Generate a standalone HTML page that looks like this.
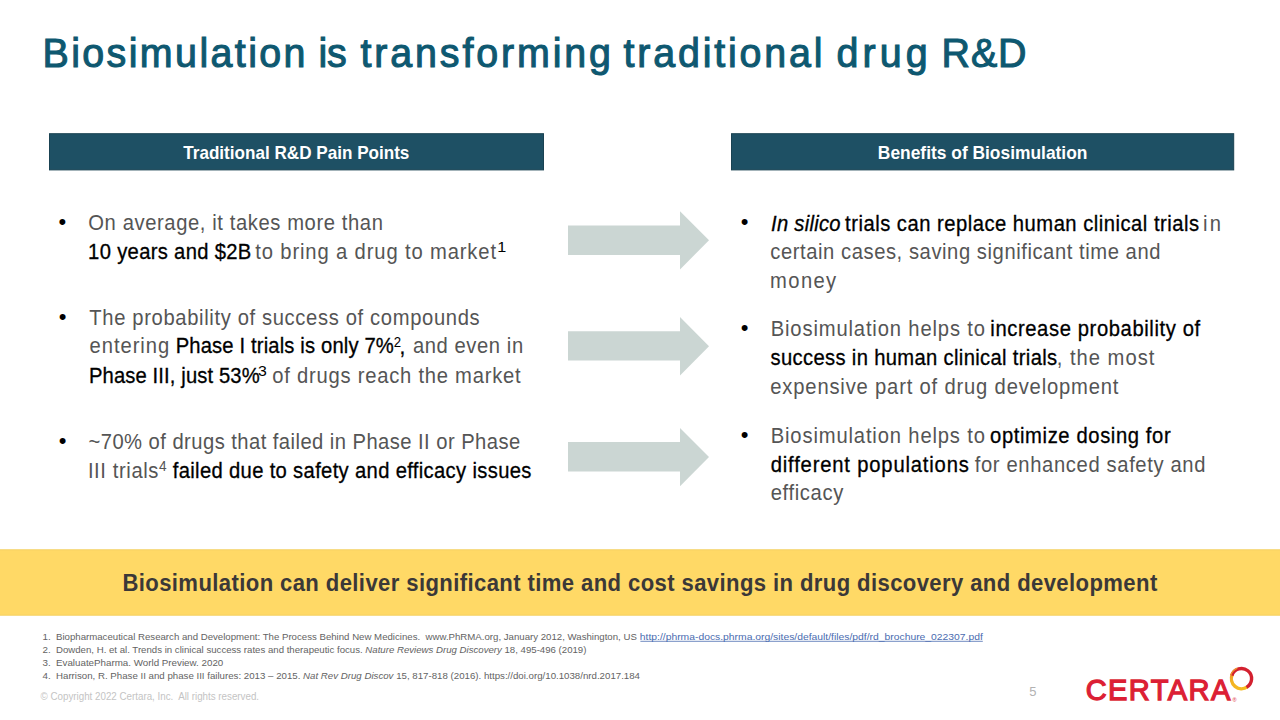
<!DOCTYPE html>
<html lang="en">
<head>
<meta charset="utf-8">
<title>Biosimulation is transforming traditional drug R&amp;D</title>
<style>
html,body{margin:0;padding:0;background:#fff;}
body{width:1280px;height:720px;overflow:hidden;position:relative;}
svg{display:block;position:absolute;left:0;top:0;}
text{font-family:"Liberation Sans",Arial,sans-serif;}
.t{fill:#0e5870;stroke:#0e5870;stroke-width:1.1px;}
.hd{fill:#fff;font-weight:700;}
.lt{fill:#555555;}
.bk{fill:#000;stroke:#000;stroke-width:0.3px;}
.sb{fill:#000;}
.it{font-style:italic;}
.bd{fill:#3b3838;font-weight:700;}
.fn{fill:#636363;}
.url{fill:#4a6cb0;}
.cp{fill:#c4c4c4;}
.lg{fill:#dc1f35;stroke:#dc1f35;stroke-width:1.3px;}
</style>
</head>
<body>
<svg width="1280" height="720" viewBox="0 0 1280 720">
  <rect x="0" y="0" width="1280" height="720" fill="#fff"/>

  <!-- Header bars -->
  <rect x="49.5" y="133.7" width="494" height="36.2" fill="#1e5064" stroke="#1a4252" stroke-width="1"/>
  <rect x="731.5" y="133.7" width="502.2" height="36.2" fill="#1e5064" stroke="#1a4252" stroke-width="1"/>
  <!-- Arrows -->
  <g fill="#cbd6d3">
    <polygon points="568,225.4 680,225.4 680,211.2 709,240.3 680,269.4 680,255 568,255"/>
    <polygon points="568,331.3 680,331.3 680,317 709,346.2 680,375.6 680,360.6 568,360.6"/>
    <polygon points="568,442 680,442 680,428 709,457 680,486.3 680,471.5 568,471.5"/>
  </g>
  <!-- Yellow band -->
  <rect x="-2" y="549.8" width="1284" height="65.4" fill="#ffd966" stroke="#f4d162" stroke-width="1"/>

  <text class="t" transform="matrix(0.95,0,0,1,42.50,0)" x="0" y="67.20" font-size="41.5" textLength="276.91" lengthAdjust="spacing">Biosimulation</text>
  <text class="t" transform="matrix(0.95,0,0,1,318.50,0)" x="0" y="67.20" font-size="41.5" textLength="29.63" lengthAdjust="spacing">is</text>
  <text class="t" transform="matrix(0.95,0,0,1,360.50,0)" x="0" y="67.20" font-size="41.5" textLength="263.69" lengthAdjust="spacing">transforming</text>
  <text class="t" transform="matrix(0.95,0,0,1,623.50,0)" x="0" y="67.20" font-size="41.5" textLength="209.48" lengthAdjust="spacing">traditional</text>
  <text class="t" transform="matrix(0.95,0,0,1,836.50,0)" x="0" y="67.20" font-size="41.5" textLength="95.88" lengthAdjust="spacing">drug</text>
  <text class="t" transform="matrix(0.95,0,0,1,941.50,0)" x="0" y="67.20" font-size="41.5" textLength="89.56" lengthAdjust="spacing">R&amp;D</text>
  <text class="hd" x="183.26" y="158.80" font-size="19" textLength="226.13" lengthAdjust="spacingAndGlyphs">Traditional R&amp;D Pain Points</text>
  <text class="hd" x="877.86" y="158.70" font-size="19" textLength="209.55" lengthAdjust="spacingAndGlyphs">Benefits of Biosimulation</text>
  <text class="lt" transform="matrix(0.94,0,0,1,88.31,0)" x="0" y="230.00" font-size="21.5" textLength="313.37" lengthAdjust="spacing">On average, it takes more than</text>
  <text class="bk" transform="matrix(0.94,0,0,1,88.11,0)" x="0" y="259.00" font-size="21.5" textLength="173.59" lengthAdjust="spacing">10 years and $2B</text>
  <text class="lt" transform="matrix(0.94,0,0,1,255.31,0)" x="0" y="259.00" font-size="21.5" textLength="256.11" lengthAdjust="spacing">to bring a drug to market</text>
  <text class="sb" x="497.33" y="251.80" font-size="14.5" textLength="9.03" lengthAdjust="spacingAndGlyphs">1</text>
  <text class="lt" transform="matrix(0.94,0,0,1,89.31,0)" x="0" y="325.00" font-size="21.5" textLength="415.26" lengthAdjust="spacing">The probability of success of compounds</text>
  <text class="lt" transform="matrix(0.94,0,0,1,89.51,0)" x="0" y="353.50" font-size="21.5" textLength="84.79" lengthAdjust="spacing">entering</text>
  <text class="bk" transform="matrix(0.94,0,0,1,175.71,0)" x="0" y="353.50" font-size="21.5" textLength="232.07" lengthAdjust="spacing">Phase I trials is only 7%</text>
  <text class="sb" x="393.73" y="347.10" font-size="14.5" textLength="7.37" lengthAdjust="spacingAndGlyphs">2</text>
  <text class="bk" x="399.51" y="353.50" font-size="21.5" textLength="5.82" lengthAdjust="spacingAndGlyphs">,</text>
  <text class="lt" transform="matrix(0.94,0,0,1,412.91,0)" x="0" y="353.50" font-size="21.5" textLength="117.28" lengthAdjust="spacing">and even in</text>
  <text class="bk" transform="matrix(0.94,0,0,1,88.91,0)" x="0" y="383.00" font-size="21.5" textLength="181.72" lengthAdjust="spacing">Phase III, just 53%</text>
  <text class="sb" x="258.13" y="376.00" font-size="14.5" textLength="8.81" lengthAdjust="spacingAndGlyphs">3</text>
  <text class="lt" transform="matrix(0.94,0,0,1,272.31,0)" x="0" y="383.00" font-size="21.5" textLength="264.20" lengthAdjust="spacing">of drugs reach the market</text>
  <text class="lt" transform="matrix(0.94,0,0,1,88.51,0)" x="0" y="448.70" font-size="21.5" textLength="459.30" lengthAdjust="spacing">~70% of drugs that failed in Phase II or Phase</text>
  <text class="lt" transform="matrix(0.94,0,0,1,87.91,0)" x="0" y="477.70" font-size="21.5" textLength="75.01" lengthAdjust="spacing">III trials</text>
  <text class="lt" x="159.00" y="471.10" font-size="14.5" textLength="7.60" lengthAdjust="spacingAndGlyphs">4</text>
  <text class="bk" transform="matrix(0.94,0,0,1,172.71,0)" x="0" y="477.70" font-size="21.5" textLength="381.61" lengthAdjust="spacing">failed due to safety and efficacy issues</text>
  <text class="bk it" transform="matrix(0.94,0,0,1,771.11,0)" x="0" y="230.60" font-size="21.5" textLength="73.83" lengthAdjust="spacing">In silico</text>
  <text class="bk" transform="matrix(0.94,0,0,1,845.11,0)" x="0" y="230.60" font-size="21.5" textLength="376.52" lengthAdjust="spacing">trials can replace human clinical trials</text>
  <text class="lt" transform="matrix(0.94,0,0,1,1202.91,0)" x="0" y="230.60" font-size="21.5" textLength="19.34" lengthAdjust="spacing">in</text>
  <text class="lt" transform="matrix(0.94,0,0,1,770.31,0)" x="0" y="258.80" font-size="21.5" textLength="415.04" lengthAdjust="spacing">certain cases, saving significant time and</text>
  <text class="lt" transform="matrix(0.94,0,0,1,770.11,0)" x="0" y="288.00" font-size="21.5" textLength="70.33" lengthAdjust="spacing">money</text>
  <text class="lt" transform="matrix(0.94,0,0,1,770.71,0)" x="0" y="336.50" font-size="21.5" textLength="227.98" lengthAdjust="spacing">Biosimulation helps to</text>
  <text class="bk" transform="matrix(0.94,0,0,1,990.31,0)" x="0" y="336.50" font-size="21.5" textLength="223.19" lengthAdjust="spacing">increase probability of</text>
  <text class="bk" transform="matrix(0.94,0,0,1,770.51,0)" x="0" y="365.30" font-size="21.5" textLength="305.01" lengthAdjust="spacing">success in human clinical trials</text>
  <text class="lt" transform="matrix(0.94,0,0,1,1056.71,0)" x="0" y="365.30" font-size="21.5" textLength="103.89" lengthAdjust="spacing">, the most</text>
  <text class="lt" transform="matrix(0.94,0,0,1,770.31,0)" x="0" y="394.00" font-size="21.5" textLength="370.37" lengthAdjust="spacing">expensive part of drug development</text>
  <text class="lt" transform="matrix(0.94,0,0,1,770.71,0)" x="0" y="443.10" font-size="21.5" textLength="227.93" lengthAdjust="spacing">Biosimulation helps to</text>
  <text class="bk" transform="matrix(0.94,0,0,1,990.11,0)" x="0" y="443.10" font-size="21.5" textLength="192.08" lengthAdjust="spacing">optimize dosing for</text>
  <text class="bk" transform="matrix(0.94,0,0,1,770.71,0)" x="0" y="472.00" font-size="21.5" textLength="210.80" lengthAdjust="spacing">different populations</text>
  <text class="lt" transform="matrix(0.94,0,0,1,974.71,0)" x="0" y="472.00" font-size="21.5" textLength="245.48" lengthAdjust="spacing">for enhanced safety and</text>
  <text class="lt" transform="matrix(0.94,0,0,1,770.71,0)" x="0" y="500.20" font-size="21.5" textLength="77.20" lengthAdjust="spacing">efficacy</text>
  <text class="bd" transform="matrix(0.96,0,0,1,122.42,0)" x="0" y="591.00" font-size="23" textLength="1077.97" lengthAdjust="spacing">Biosimulation can deliver significant time and cost savings in drug discovery and development</text>
  <text class="fn" x="56.00" y="640.00" font-size="9.8" textLength="580.83" lengthAdjust="spacingAndGlyphs">Biopharmaceutical Research and Development: The Process Behind New Medicines.&#160; www.PhRMA.org, January 2012, Washington, US</text>
  <text class="fn url" x="639.80" y="640.00" font-size="9.8" textLength="343.01" lengthAdjust="spacingAndGlyphs">http://phrma-docs.phrma.org/sites/default/files/pdf/rd_brochure_022307.pdf</text>
  <text class="fn" x="56.00" y="652.90" font-size="9.8" textLength="530.43" lengthAdjust="spacingAndGlyphs">Dowden, H. et al. Trends in clinical success rates and therapeutic focus. <tspan font-style="italic">Nature Reviews Drug Discovery</tspan> 18, 495-496 (2019)</text>
  <text class="fn" x="56.00" y="665.80" font-size="9.8" textLength="167.27" lengthAdjust="spacingAndGlyphs">EvaluatePharma. World Preview. 2020</text>
  <text class="fn" x="56.00" y="678.70" font-size="9.8" textLength="584.02" lengthAdjust="spacingAndGlyphs">Harrison, R. Phase II and phase III failures: 2013 – 2015. <tspan font-style="italic">Nat Rev Drug Discov</tspan> 15, 817-818 (2016). https://doi.org/10.1038/nrd.2017.184</text>
  <text class="cp" x="40.60" y="700.30" font-size="10" textLength="218.49" lengthAdjust="spacingAndGlyphs">© Copyright 2022 Certara, Inc.&#160; All rights reserved.</text>
  <text class="lg" transform="matrix(0.97,0,0,1,1085.64,0)" x="0" y="700.00" font-size="30" textLength="149.30" lengthAdjust="spacing">CERTARA</text>

  <!-- Bullets -->
  <g font-size="22" fill="#000">
    <text x="58.6" y="229">•</text>
    <text x="58.8" y="324">•</text>
    <text x="58.8" y="448">•</text>
    <text x="740.7" y="229">•</text>
    <text x="740.7" y="335">•</text>
    <text x="740.7" y="442">•</text>
  </g>
  <!-- Footnote numbers -->
  <g class="fn" font-size="9.8">
    <text x="42.5" y="640">1.</text>
    <text x="42.5" y="652.9">2.</text>
    <text x="42.5" y="665.8">3.</text>
    <text x="42.5" y="678.7">4.</text>
  </g>
  <line x1="640.4" y1="641.3" x2="982.8" y2="641.3" stroke="#4a6cb0" stroke-width="0.8"/>
  <!-- Page number -->
  <text x="1029.2" y="695.9" font-size="13" fill="#b2b2b2">5</text>
  <!-- Logo mark -->
  <text x="1232.6" y="702.2" font-size="5.5" fill="#dc1f35">®</text>
  <defs>
    <linearGradient id="ringY" x1="1248" y1="688" x2="1233" y2="668" gradientUnits="userSpaceOnUse">
      <stop offset="0" stop-color="#f5bd1f"/>
      <stop offset="0.6" stop-color="#f3b323"/>
      <stop offset="1" stop-color="#ee8a2c"/>
    </linearGradient>
  </defs>
  <g fill="none" stroke-width="3.4">
    <path d="M1247.29,686.87 A10.10,10.10 0 0 1 1232.35,674.33" stroke="url(#ringY)"/>
    <path d="M1231.89,675.48 A10.10,10.10 0 1 1 1246.55,687.35" stroke="#d3202f"/>
    <path d="M1230.73,675.51 A11.20,11.20 0 0 1 1237.30,668.22" stroke="#ef8e2b" stroke-width="1.3"/>
  </g>

</svg>
</body>
</html>
